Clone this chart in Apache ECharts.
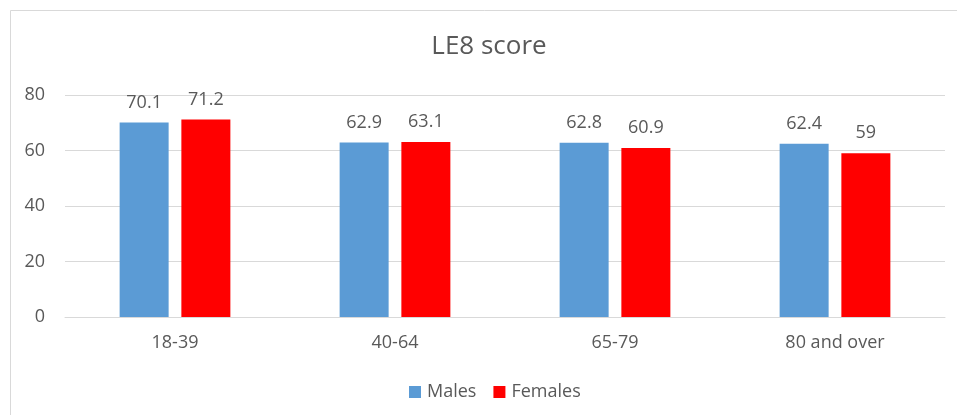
<!DOCTYPE html>
<html>
<head>
<meta charset="utf-8">
<script src="https://cdn.jsdelivr.net/npm/echarts@6/dist/echarts.min.js"></script>
<style>
  html, body { margin: 0; padding: 0; background: #ffffff; }
  #chart { width: 957px; height: 415px; }
</style>
</head>
<body>
<div id="chart"></div>
<script>
// LE8 score by age group and sex
const categories = ['18-39', '40-64', '65-79', '80 and over'];
const males = [70.1, 62.9, 62.8, 62.4];
const females = [71.2, 63.1, 60.9, 59];
const yTicks = [0, 20, 40, 60, 80];

const textColor = '#595959';
const gridColor = '#d9d9d9';
const font = 'Open Sans';

const chart = echarts.init(document.getElementById('chart'), null, { renderer: 'canvas' });

const labelStyle = {
  show: true,
  position: 'top',
  distance: 11,
  color: textColor,
  fontFamily: font,
  fontSize: 18
};

chart.setOption({
  animation: false,
  backgroundColor: '#ffffff',
  graphic: [
    {
      type: 'rect',
      silent: true,
      shape: { x: 10.5, y: 10.5, width: 1000, height: 1000 },
      style: { fill: 'none', stroke: gridColor, lineWidth: 1 }
    },
    {
      // chart title
      type: 'text',
      silent: true,
      x: 489,
      y: 47,
      style: {
        text: 'LE8 score',
        fill: textColor,
        font: 'normal 26px "Open Sans"',
        align: 'center',
        verticalAlign: 'middle'
      }
    }
  ],
  legend: {
    data: ['Males', 'Females'],
    left: 409,
    top: 383,
    padding: 0,
    icon: 'rect',
    itemWidth: 12,
    itemHeight: 12,
    itemGap: 17,
    textStyle: { color: textColor, fontFamily: font, fontSize: 18, padding: [0, 0, 0, 1] }
  },
  grid: { left: 65, right: 12, top: 95, bottom: 98, containLabel: false },
  xAxis: {
    type: 'category',
    data: categories,
    axisLine: { show: true, lineStyle: { color: gridColor, width: 1 } },
    axisTick: { show: false },
    axisLabel: { color: textColor, fontFamily: font, fontSize: 18, margin: 17 }
  },
  yAxis: {
    type: 'value',
    min: yTicks[0],
    max: yTicks[yTicks.length - 1],
    interval: yTicks[1] - yTicks[0],
    axisLine: { show: false },
    axisTick: { show: false },
    splitLine: { lineStyle: { color: gridColor, width: 1 } },
    axisLabel: { color: textColor, fontFamily: font, fontSize: 18, margin: 20 }
  },
  series: [
    {
      name: 'Males',
      type: 'bar',
      data: males,
      barWidth: 49,
      barGap: '26%',
      itemStyle: { color: '#5b9bd5' },
      label: labelStyle
    },
    {
      name: 'Females',
      type: 'bar',
      data: females,
      barWidth: 49,
      itemStyle: { color: '#ff0000' },
      label: labelStyle
    }
  ]
});
</script>
</body>
</html>
